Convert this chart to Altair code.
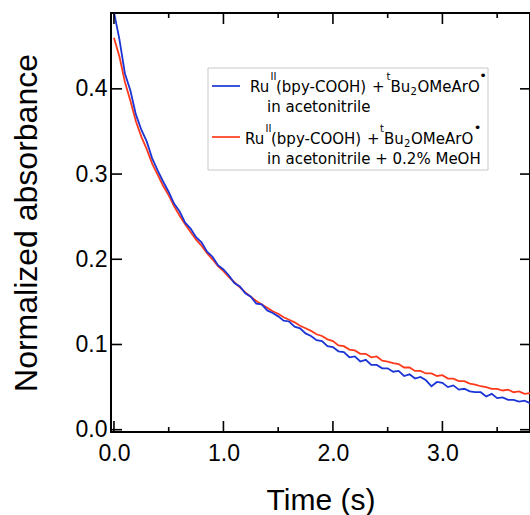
import altair as alt
import pandas as pd

# ---------------- data ----------------
times = [0.00, 0.05, 0.10, 0.15, 0.20, 0.25, 0.30, 0.35, 0.40, 0.45,
         0.50, 0.55, 0.60, 0.65, 0.70, 0.75, 0.80, 0.85, 0.90, 0.95,
         1.00, 1.05, 1.10, 1.15, 1.20, 1.25, 1.30, 1.35, 1.40, 1.45,
         1.50, 1.55, 1.60, 1.65, 1.70, 1.75, 1.80, 1.85, 1.90, 1.95,
         2.00, 2.05, 2.10, 2.15, 2.20, 2.25, 2.30, 2.35, 2.40, 2.45,
         2.50, 2.55, 2.60, 2.65, 2.70, 2.75, 2.80, 2.85, 2.90, 2.95,
         3.00, 3.05, 3.10, 3.15, 3.20, 3.25, 3.30, 3.35, 3.40, 3.45,
         3.50, 3.55, 3.60, 3.65, 3.70, 3.75, 3.80]

blue_vals = [0.490, 0.458, 0.418, 0.398, 0.370, 0.352, 0.338, 0.318, 0.304, 0.291,
             0.279, 0.265, 0.256, 0.243, 0.236, 0.226, 0.220, 0.209, 0.203, 0.193,
             0.188, 0.181, 0.172, 0.168, 0.160, 0.156, 0.148, 0.147, 0.140, 0.137,
             0.133, 0.128, 0.127, 0.121, 0.119, 0.113, 0.110, 0.105, 0.104, 0.098,
             0.097, 0.092, 0.091, 0.085, 0.086, 0.080, 0.082, 0.076, 0.076, 0.072,
             0.072, 0.068, 0.069, 0.063, 0.065, 0.060, 0.062, 0.058, 0.051, 0.056,
             0.055, 0.050, 0.052, 0.047, 0.048, 0.045, 0.044, 0.044, 0.039, 0.042,
             0.037, 0.038, 0.035, 0.035, 0.033, 0.034, 0.031]

red_vals = [0.460, 0.438, 0.408, 0.386, 0.362, 0.344, 0.329, 0.312, 0.299, 0.286,
            0.275, 0.262, 0.251, 0.241, 0.232, 0.223, 0.216, 0.207, 0.200, 0.192,
            0.186, 0.179, 0.173, 0.167, 0.161, 0.156, 0.151, 0.147, 0.143, 0.139,
            0.136, 0.132, 0.129, 0.126, 0.122, 0.119, 0.116, 0.112, 0.110, 0.106,
            0.104, 0.099, 0.098, 0.094, 0.093, 0.089, 0.089, 0.085, 0.086, 0.081,
            0.080, 0.078, 0.077, 0.073, 0.073, 0.069, 0.069, 0.066, 0.066, 0.063,
            0.064, 0.060, 0.060, 0.057, 0.057, 0.054, 0.053, 0.051, 0.050, 0.048,
            0.048, 0.046, 0.047, 0.044, 0.045, 0.042, 0.043]

x_major = [0.0, 1.0, 2.0, 3.0]
x_minor = [0.5, 1.5, 2.5, 3.5]
y_major = [0.0, 0.1, 0.2, 0.3, 0.4]

legend_main = ["Ru", "(bpy-COOH)", "+", "Bu", "OMeArO"]
legend_sup = ["II", "t", "\u2022"]
legend_sub = ["2"]
legend_second = ["in acetonitrile", "in acetonitrile + 0.2% MeOH"]

BLUE = "#1b34d6"
RED = "#ff3a1c"
FONT = "Liberation Sans"
LFONT = "DejaVu Sans"

# ---------------- layout ----------------
PADL, PADT = 111, 13
W, H = 419, 419
xs = alt.Scale(domain=[-0.027, 3.80], nice=False, zero=False)
ys = alt.Scale(domain=[-0.0027, 0.489], nice=False, zero=False)

df_blue = pd.DataFrame({"t": times, "v": blue_vals})
df_red = pd.DataFrame({"t": times, "v": red_vals})

x_axis = alt.Axis(values=x_major, format=".1f", title="Time (s)", tickSize=0,
                  domain=False, grid=False, labelFont=FONT, labelFontSize=23,
                  labelColor="black", labelPadding=10, labelFlush=False,
                  titleFont=FONT, titleFontSize=30, titleFontWeight="normal",
                  titleColor="black", titleY=77, titleBaseline="alphabetic")
y_axis = alt.Axis(values=y_major, format=".1f", title="Normalized absorbance",
                  tickSize=0, domain=False, grid=False, labelFont=FONT,
                  labelFontSize=23, labelColor="black", labelPadding=4,
                  labelFlush=False, titleFont=FONT, titleFontSize=32,
                  titleFontWeight="normal", titleColor="black", titleAngle=-90,
                  titleX=-75, titleY=209.5, titleAlign="center",
                  titleBaseline="alphabetic")

XENC = dict(field="t", type="quantitative", scale=xs, axis=x_axis, title="Time (s)")
YENC = dict(field="v", type="quantitative", scale=ys, axis=y_axis,
            title="Normalized absorbance")

red_line = alt.Chart(df_red).mark_line(color=RED, strokeWidth=1.8, clip=True).encode(
    x=alt.X(**XENC), y=alt.Y(**YENC))
blue_line = alt.Chart(df_blue).mark_line(color=BLUE, strokeWidth=1.8, clip=True).encode(
    x=alt.X(**XENC), y=alt.Y(**YENC))

# inward ticks
dxM = pd.DataFrame({"t": x_major})
dxm = pd.DataFrame({"t": x_minor})
dyM = pd.DataFrame({"v": y_major})
tick_style = dict(color="black", strokeWidth=1.6)


def xticks(d, y0, y1):
    return alt.Chart(d).mark_rule(**tick_style).encode(
        x=alt.X(**XENC), y=alt.value(y0), y2=alt.value(y1))


def yticks(x0, x1):
    return alt.Chart(dyM).mark_rule(**tick_style).encode(
        y=alt.Y(**YENC), x=alt.value(x0), x2=alt.value(x1))


ticks = [xticks(dxM, H, H - 11), xticks(dxm, H, H - 5),
         xticks(dxM, 0, 11), xticks(dxm, 0, 5),
         yticks(0, 11), yticks(W - 10, W)]

# legend
one = pd.DataFrame({"a": [0]})
box = alt.Chart(one).mark_rect(fill="white", stroke="#c8c8c8", strokeWidth=1).encode(
    x=alt.value(208 - PADL), x2=alt.value(488 - PADL),
    y=alt.value(68 - PADT), y2=alt.value(170 - PADT))


def sample(color, y):
    return alt.Chart(one).mark_rule(color=color, strokeWidth=1.7).encode(
        x=alt.value(212 - PADL), x2=alt.value(240 - PADL), y=alt.value(y - PADT))


def seg(text, x, y, size=15, baseline="alphabetic", align="left"):
    return alt.Chart(one).mark_text(text=text, align=align, baseline=baseline,
                                    fontSize=size, font=LFONT, color="black").encode(
        x=alt.value(x - PADL), y=alt.value(y - PADT))


def legend_line(x_ru, x_sup1, x_par, x_plus, x_t, x_bu, x_2, x_o, x_dot, base):
    return [
        seg(legend_main[0], x_ru, base),
        seg(legend_sup[0], x_sup1, base - 12, 10),
        seg(legend_main[1], x_par, base),
        seg(legend_main[2], x_plus, base),
        seg(legend_sup[1], x_t, base - 12, 10),
        seg(legend_main[3], x_bu, base),
        seg(legend_sub[0], x_2, base + 3, 10),
        seg(legend_main[4], x_o, base),
        seg(legend_sup[2], x_dot, base - 16, 13, "middle", "center"),
    ]


legend_layers = [box, sample(BLUE, 86), sample(RED, 137)]
legend_layers += legend_line(250, 270.5, 276, 372, 386.5, 390.5, 410.5, 417.5, 483, 92)
legend_layers += [seg(legend_second[0], 267, 112)]
legend_layers += legend_line(245, 265.5, 271, 367, 380, 384, 404, 411, 477.5, 144)
legend_layers += [seg(legend_second[1], 267, 164)]

chart = alt.layer(red_line, blue_line, *ticks, *legend_layers).properties(
    width=W, height=H,
    padding={"left": PADL, "top": PADT, "right": 0, "bottom": 83},
    autosize=alt.AutoSizeParams(type="none"),
    background="white",
).configure_view(stroke="black", strokeWidth=2)

chart.save("out.html", embed_options={"renderer": "svg", "actions": False})
